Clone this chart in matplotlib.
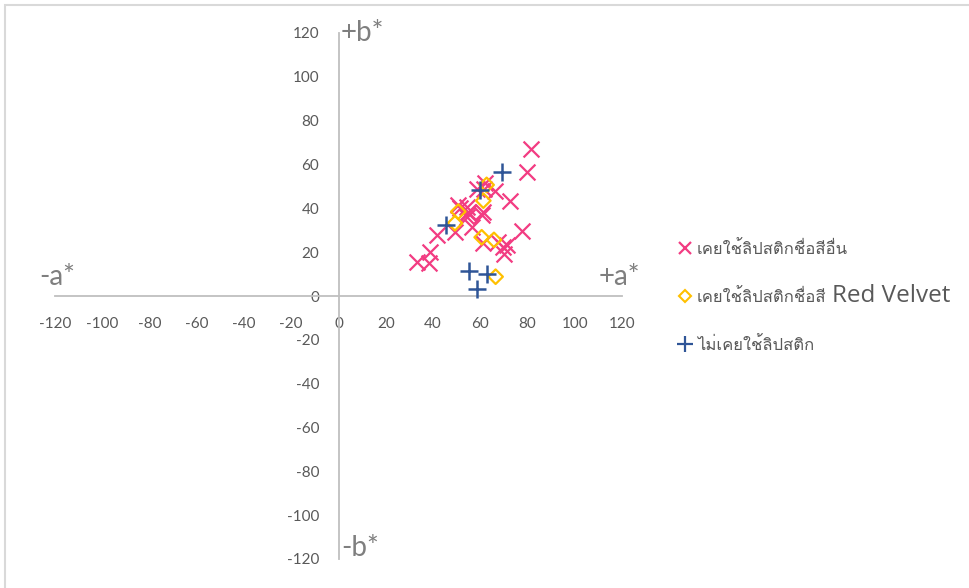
import numpy as np
import matplotlib
matplotlib.use("Agg")
import matplotlib.pyplot as plt
from matplotlib import font_manager
from matplotlib.ft2font import FT2Font
from matplotlib.lines import Line2D
from matplotlib.patches import Rectangle
from matplotlib.transforms import IdentityTransform

# CIE a*, b* values for the three groups
other_a = [81.5, 79.8, 72.6, 77.5, 58.5, 61.4, 66.2, 62.0, 61.0, 51.4, 55.0, 54.3,
           50.7, 54.3, 55.0, 49.3, 56.4, 41.8, 38.7, 33.1, 38.4, 61.0, 67.6, 69.8,
           71.2, 70.2, 60.6]
other_b = [67.0, 56.6, 43.4, 29.8, 48.7, 49.0, 48.1, 51.5, 38.5, 40.0, 38.5, 36.2,
           41.6, 40.8, 37.8, 29.4, 31.6, 27.9, 20.2, 15.7, 14.9, 24.0, 24.8, 22.5,
           23.3, 19.2, 37.0]

redvelvet_a = [62.7, 61.3, 50.7, 49.3, 60.6, 65.8, 66.5]
redvelvet_b = [50.7, 43.5, 38.5, 33.2, 26.8, 25.6, 8.8]

never_a = [69.3, 59.9, 45.5, 55.4, 63.0, 58.5]
never_b = [56.8, 48.4, 32.4, 11.6, 10.0, 3.1]

ticks = list(range(-120, 121, 20))
labels = ["เคยใช้ลิปสติกชื่อสีอื่น", "เคยใช้ลิปสติกชื่อสี", "ไม่เคยใช้ลิปสติก"]


def find_thai_family():
    # pick any installed face that has Thai glyphs
    for f in font_manager.fontManager.ttflist:
        try:
            if 0x0E01 in FT2Font(f.fname).get_charmap():
                return f.name
        except Exception:
            continue
    return "DejaVu Sans"


thai_family = find_thai_family()
plt.rcParams["font.family"] = ["Lato", "DejaVu Sans"]
plt.rcParams["axes.unicode_minus"] = False

grey_txt = "#595959"
axis_col = "#BFBFBF"

fig = plt.figure(figsize=(9.69, 5.88), dpi=100)
ax = fig.add_axes([55 / 969, 1 - 559 / 588, 567 / 969, 526 / 588])

ax.scatter(other_a, other_b, marker="x", s=130, color="#F23C82", linewidths=1.6, zorder=3)
ax.scatter(redvelvet_a, redvelvet_b, marker="D", s=55, facecolor="none",
           edgecolor="#FFC000", linewidths=1.6, zorder=4)
ax.scatter(never_a, never_b, marker="+", s=150, color="#2F5597", linewidths=1.8, zorder=5)

ax.set_xlim(-120, 120)
ax.set_ylim(-120, 120)
ax.set_xticks(ticks)
ax.set_yticks(ticks)

for side in ["top", "right"]:
    ax.spines[side].set_visible(False)
ax.spines["left"].set_position(("data", 0))
ax.spines["bottom"].set_position(("data", 0))
for side in ["left", "bottom"]:
    ax.spines[side].set_color(axis_col)
    ax.spines[side].set_linewidth(1.3)

ax.tick_params(axis="both", length=0, labelsize=11, labelcolor=grey_txt)
ax.tick_params(axis="x", pad=15)
ax.tick_params(axis="y", pad=14)
ax.set_facecolor("none")

# axis end labels
big = dict(fontsize=20, color="#7F7F7F", clip_on=False)
ax.text(1, 120, "+b*", ha="left", va="center", **big)
ax.text(1, -115, "-b*", ha="left", va="center", **big)
ax.text(-126.5, 8.5, "-a*", ha="left", va="center", **big)
ax.text(110, 8.5, "+a*", ha="left", va="center", **big)

handles = [
    Line2D([], [], ls="none", marker="x", ms=9, mew=1.6, color="#F23C82"),
    Line2D([], [], ls="none", marker="D", ms=6, mew=1.5, mfc="none", mec="#FFC000"),
    Line2D([], [], ls="none", marker="+", ms=11, mew=1.6, color="#2F5597"),
]
leg = fig.legend(handles, labels, loc="upper left",
                 bbox_to_anchor=(672 / 969, 1 - 233 / 588),
                 frameon=False, handlelength=0.6, handletextpad=0.4,
                 labelspacing=1.85, borderpad=0,
                 prop={"family": [thai_family, "DejaVu Sans"], "size": 12})
for t in leg.get_texts():
    t.set_color(grey_txt)

# outer chart frame
fig.add_artist(Rectangle((5 / 969, -0.1), 2, 1 - 5 / 588 + 0.1, transform=fig.transFigure,
                         fill=False, edgecolor="#D9D9D9", linewidth=1.5))

fig.canvas.draw()
rv = leg.get_texts()[1]
bb = rv.get_window_extent()
bx, by = rv.get_transform().transform(rv.get_position())
fig.text(bb.x1 + 6, by, "Red Velvet", transform=IdentityTransform(),
         ha="left", va="baseline", fontsize=17.5, color=grey_txt, family="Open Sans")

fig.savefig("out.png", dpi=100)
